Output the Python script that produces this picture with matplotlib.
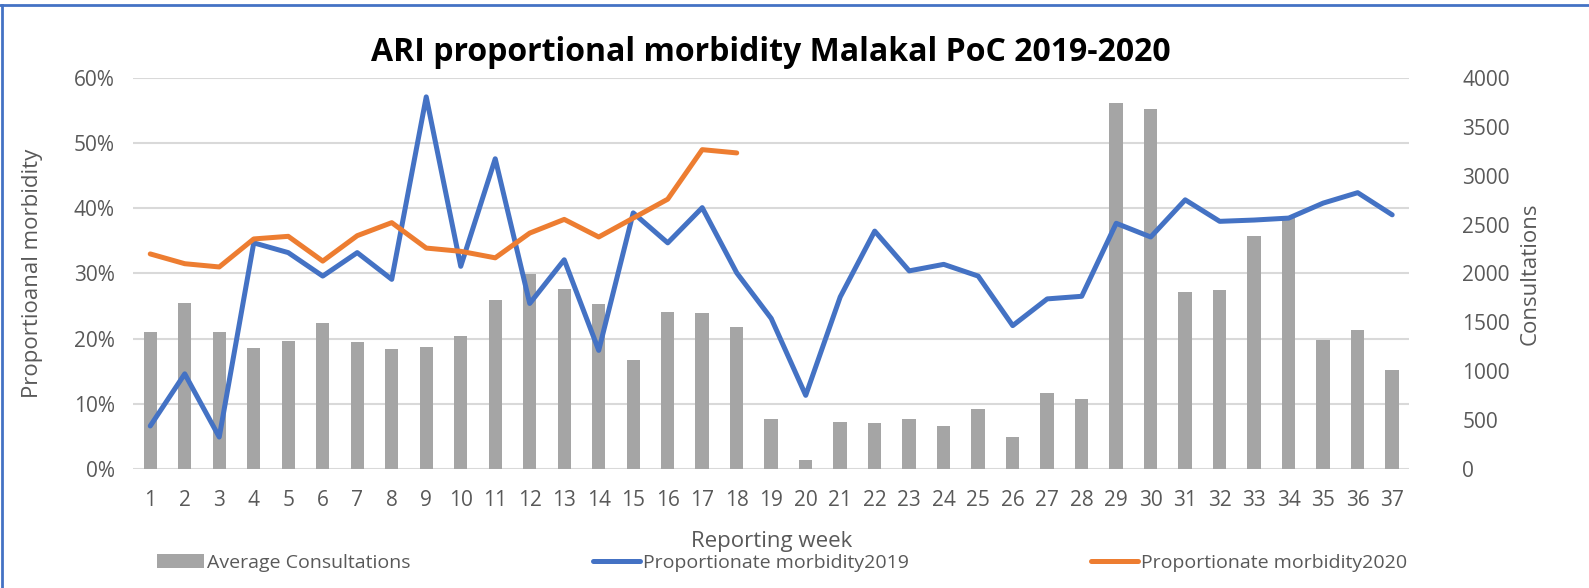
import matplotlib
matplotlib.use('Agg')
import matplotlib.pyplot as plt
from matplotlib.lines import Line2D
from matplotlib.ticker import PercentFormatter

weeks = list(range(1, 38))
consultations = [1400, 1700, 1400, 1240, 1310, 1490, 1300, 1230, 1245, 1365,
                 1730, 1995, 1845, 1690, 1120, 1605, 1595, 1450, 508, 90,
                 480, 467, 508, 443, 614, 324, 781, 719, 3748, 3687,
                 1810, 1831, 2388, 2568, 1319, 1425, 1016]
morb_2019 = [6.6, 14.6, 4.9, 34.7, 33.2, 29.6, 33.2, 29.1, 57.1, 31.1,
             47.6, 25.4, 32.1, 18.2, 39.3, 34.7, 40.1, 30.1, 23.1, 11.3,
             26.4, 36.5, 30.4, 31.4, 29.6, 22.0, 26.1, 26.5, 37.7, 35.6,
             41.3, 38.0, 38.2, 38.5, 40.8, 42.4, 39.0]
weeks_2020 = list(range(1, 19))
morb_2020 = [33.0, 31.5, 31.0, 35.3, 35.7, 31.9, 35.8, 37.8, 33.9, 33.4,
             32.4, 36.2, 38.3, 35.6, 38.5, 41.4, 49.0, 48.5]

grey = '#A5A5A5'
blue = '#4472C4'
orange = '#ED7D31'
txt = '#595959'
plt.rcParams['font.family'] = ['Open Sans', 'DejaVu Sans']

fig = plt.figure(figsize=(15.89, 5.88), dpi=100)
ax = fig.add_axes([0.0837, 0.2024, 0.8033, 0.6650])
ax2 = ax.twinx()

# bars on secondary axis, lines on primary
ax2.bar(weeks, consultations, width=0.39, color=grey, zorder=1, label='Average Consultations')
ax2.set_ylim(0, 4000)
ax2.set_yticks(range(0, 4001, 500))

ax.set_zorder(ax2.get_zorder() + 1)
ax.patch.set_visible(False)
l1, = ax.plot(weeks, morb_2019, color=blue, lw=3.6, solid_joinstyle='round',
              solid_capstyle='round', label='Proportionate morbidity2019')
l2, = ax.plot(weeks_2020, morb_2020, color=orange, lw=3.6, solid_joinstyle='round',
              solid_capstyle='round', label='Proportionate morbidity2020')
ax.set_ylim(0, 60)
ax.set_yticks(range(0, 61, 10))
ax.yaxis.set_major_formatter(PercentFormatter(decimals=0))
ax.set_xlim(0.5, 37.5)
ax.set_xticks(weeks)

for g in range(0, 61, 10):
    ax2.axhline(g / 60 * 4000, color='#D9D9D9', lw=1.5, zorder=0)

for a in (ax, ax2):
    for s in a.spines.values():
        s.set_visible(False)
    a.tick_params(length=0, colors=txt, labelsize=15)
ax.tick_params(axis='x', pad=15)
ax.tick_params(axis='y', pad=13)
ax2.tick_params(axis='y', pad=38)

ax.set_title('ARI proportional morbidity Malakal PoC 2019-2020', fontsize=23,
             fontweight='bold', color='black', pad=12)
ax.set_xlabel('Reporting week', fontsize=16, color=txt)
ax.set_ylabel('Proportioanal morbidity', fontsize=16, color=txt)
ax2.set_ylabel('Consultations', fontsize=16, color=txt)
ax.xaxis.set_label_coords(0.5, -0.158)
ax.yaxis.set_label_coords(-0.0705, 0.5)
ax2.yaxis.set_label_coords(1.086, 0.5)

h_bar = ax2.get_legend_handles_labels()
handles = h_bar[0] + [l1, l2]
labels = h_bar[1] + [l1.get_label(), l2.get_label()]
fig.legend(handles, labels, loc='center left', bbox_to_anchor=(0.094, 0.043), ncol=3,
           frameon=False, fontsize=14, labelcolor=txt, handlelength=2.4,
           handletextpad=0.15, columnspacing=9.4, borderaxespad=0)

# chart border (top and left edges)
fig.add_artist(Line2D([0, 1], [1 - 5 / 588, 1 - 5 / 588], color='#4472C4', lw=2,
                      transform=fig.transFigure))
fig.add_artist(Line2D([2 / 1589, 2 / 1589], [0, 1 - 5 / 588], color='#4472C4', lw=2,
                      transform=fig.transFigure))

fig.savefig('out.png', dpi=100)
